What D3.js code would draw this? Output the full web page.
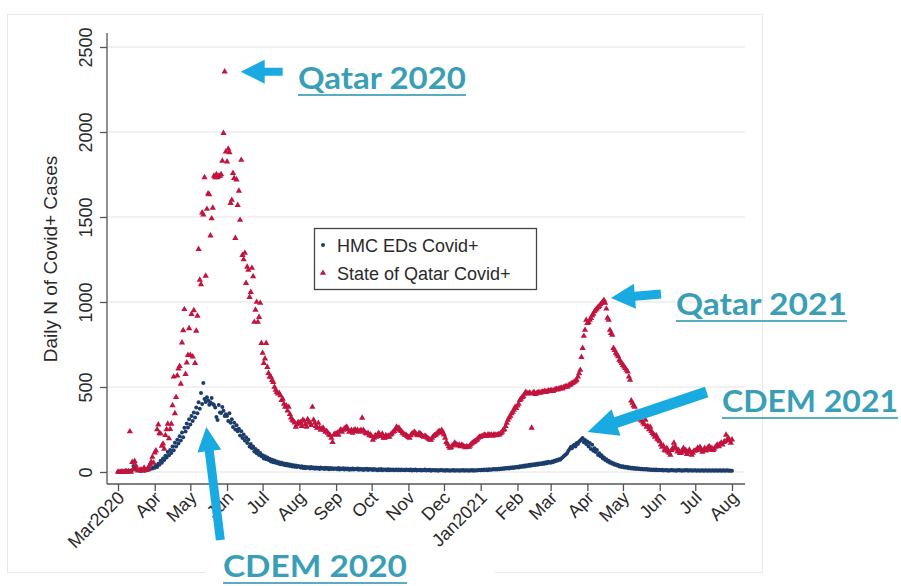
<!DOCTYPE html>
<html>
<head>
<meta charset="utf-8">
<script src="https://cdn.jsdelivr.net/npm/d3@7"></script>
<style>
  html, body { margin: 0; padding: 0; background: #fff; }
  svg { display: block; }
</style>
</head>
<body>
<svg id="chart" width="901" height="586"></svg>
<script>
// Daily counts, one value per day starting on seriesStart (one row per month).
const seriesStart = "2020-03-01";

const hmcEdsCases = [
  0,0,1,0,1,2,2,3,4,5, 6,8,12,35,28,18,14,10,9,8, 7,9,10,8,12,14,16,18,22,20, 26,               // Mar 2020
  25,38,30,48,42,66,55,80,70,95, 85,118,98,130,112,150,128,172,150,190, 168,210,185,232,205,260,238,285,262,310, // Apr
  280,330,300,350,320,380,345,410,372,465, 400,523,430,412,440,420,395,410,435,400, 394,380,324,306,394,350,347,382,360,330, 340, // May
  330,300,345,290,310,265,290,250,275,240, 255,215,240,200,220,185,205,170,190,150, 165,140,150,120,135,110,125,100,112,92, // Jun
  98,80,92,75,85,70,78,62,72,58, 68,55,62,50,58,46,55,44,50,40, 48,38,45,36,42,33,40,31,38,30, 35, // Jul
  32,26,34,24,31,22,30,25,28,20, 29,22,27,19,26,21,25,18,27,20, 24,17,25,19,23,16,24,18,22,17, 21, // Aug
  20,16,23,15,21,17,22,14,20,16, 21,13,19,15,20,14,18,16,21,13, 19,14,17,12,18,15,19,12,17,14,     // Sep
  16,12,17,13,15,11,16,12,17,10, 15,13,14,10,16,11,15,12,14,10, 13,15,11,14,10,15,12,13,10,14, 12, // Oct
  13,10,14,9,13,11,14,9,12,10, 13,9,12,11,14,9,12,10,13,8, 12,10,11,9,12,8,11,10,12,9,             // Nov
  11,8,12,9,10,7,11,9,12,8, 10,9,11,7,10,9,12,8,11,9, 10,8,11,9,12,8,10,9,11,10, 12,               // Dec
  10,13,11,15,12,14,11,16,13,15, 14,18,15,17,14,19,16,20,17,22, 19,23,20,25,21,26,23,28,24,30, 27, // Jan 2021
  31,27,34,30,36,31,38,33,40,35, 42,37,44,39,46,41,48,43,50,45, 52,47,55,49,57,52,60,56,           // Feb
  55,62,58,66,63,70,68,75,72,80, 85,92,98,105,112,125,135,147,140,155, 160,150,170,165,178,185,192,200,175,188, 165, // Mar
  180,150,170,135,160,125,140,118,130,100, 110,92,98,80,85,70,75,62,66,55, 58,48,52,42,46,38,41,33,36,30, // Apr
  34,27,31,25,29,22,27,21,25,19, 23,18,22,17,20,16,19,15,18,14, 17,13,16,12,15,12,14,11,14,10, 13, // May
  12,10,13,9,11,10,12,8,11,9, 12,10,9,11,8,10,12,9,10,8, 11,9,10,12,8,10,9,11,8,10,               // Jun
  10,8,9,11,8,9,10,7,9,10, 8,9,11,8,9,10,7,9,10,8, 9,11,8,9,10,7,9,10,8,9, 8,                      // Jul
  8                                                                                               // Aug 1
];

const qatarCases = [
  1,0,0,1,1,0,3,3,0,3, 238,0,58,17,64,38,13,8,10,11, 13,7,25,11,12,13,28,44,59,88, 54,             // Mar 2020
  114,126,250,279,228,225,153,166,136,216, 251,283,197,252,283,392,560,345,440,567, 608,623,518,761,833,957,576,643,687,845, // Apr
  687,929,679,951,640,830,918,1311,1130,1103, 1526,1514,1733,1153,1547,1637,1632,1390,1491,1554, 1742,1733,1751,1732,1740,1742,1751,1830,1993,2355, 1884, // May
  1826,1901,1880,1581,1600,1758,1729,1376,1720,1570, 1653,1482,1835,1276,1250,1288,1111,1206,1188,1029, 1058,1200,1150,882,953,1000,882,911,994,758, // Jun
  700,640,667,758,617,581,560,559,540,529, 500,482,470,460,464,450,423,430,400,382, 390,360,382,340,320,306,300,290,265,280, 292, // Jul
  287,292,270,306,300,280,265,310,295,288, 276,382,306,288,270,259,288,260,247,255, 259,247,236,240,230,220,215,200,176,218, 225, // Aug
  225,230,218,240,250,235,247,255,260,265, 250,235,240,247,230,245,250,240,247,235, 240,247,318,247,235,229,225,229,215,220,   // Sep
  210,188,200,215,206,220,229,215,210,225, 200,200,215,206,212,206,220,225,235,240, 250,265,255,259,245,240,230,225,218,218, 210, // Oct
  205,200,215,225,230,235,228,220,215,229, 225,218,210,206,212,206,200,195,190,188, 200,210,215,218,225,235,240,230,247,235,   // Nov
  220,200,176,165,150,141,145,155,160,171, 165,160,155,159,150,159,155,150,145,150, 147,147,155,165,171,175,180,185,190,200, 206, // Dec
  206,210,212,218,215,210,218,220,215,218, 212,218,220,215,218,222,220,229,235,247, 250,270,288,306,320,330,345,353,365,382, 375, // Jan 2021
  390,400,423,430,440,445,460,470,464,460, 465,462,259,464,470,458,462,466,470,465, 468,472,470,476,470,474,478,475,          // Feb
  478,480,475,482,485,488,484,490,492,495, 490,498,500,505,500,508,512,515,523,525, 530,535,541,560,580,600,676,729,800,835, 894, // Mar
  876,880,895,905,920,930,945,953,960,970, 975,985,994,1000,1011,994,960,906,894,835, 817,806,729,717,700,690,680,659,650,640, // Apr
  629,620,610,600,590,560,541,420,406,390, 382,350,324,330,315,306,300,290,280,306, 265,270,250,265,240,229,220,206,215,195, 188, // May
  180,160,147,155,130,125,140,120,112,100, 129,140,171,150,135,120,129,110,112,125, 140,118,129,105,120,130,115,100,112,125,   // Jun
  125,129,140,135,147,130,118,129,140,125, 135,147,150,130,140,128,135,147,155,160, 150,165,171,160,175,180,218,190,200,185, 171, // Jul
  190                                                                                             // Aug 1
];

const seriesNames = ["HMC EDs Covid+", "State of Qatar Covid+"];
const yTickValues = [0, 500, 1000, 1500, 2000, 2500];
const xTickLabels = ["Mar2020","Apr","May","Jun","Jul","Aug","Sep","Oct","Nov","Dec",
                     "Jan2021","Feb","Mar","Apr","May","Jun","Jul","Aug"];
const yTitle = "Daily N of Covid+ Cases";
const calloutLabels = ["Qatar 2020", "Qatar 2021", "CDEM 2021", "CDEM 2020"];

// ---------------------------------------------------------------------------
const W = 901, H = 586;
const plot = { left: 107, right: 745, top: 33, bottom: 484 };
const axisFont = "'Liberation Sans', Arial, Helvetica, sans-serif";
const calloutFont = "Lato, 'Open Sans', sans-serif";
const navy = "#1c3d6c", crimson = "#c2143f";
const arrowBlue = "#1aaae2", calloutTeal = "#3a9fb6";

const svg = d3.select("#chart");
svg.append("rect").attr("width", W).attr("height", H).attr("fill", "#fff");

// faint frame around the graph area
svg.append("rect")
  .attr("x", 7.5).attr("y", 14.5).attr("width", 755).attr("height", 558)
  .attr("fill", "none").attr("stroke", "#e9e9e9").attr("stroke-width", 1);

const parse = d3.utcParse("%Y-%m-%d");
const t0 = parse(seriesStart);
const dayAt = i => d3.utcDay.offset(t0, i);

const x = d3.scaleUtc()
  .domain([parse("2020-03-01"), parse("2021-08-01")])
  .range([118, 732]);
const y = d3.scaleLinear().domain([0, 2500]).range([472, 47]);

// horizontal grid
svg.append("g").selectAll("line").data(yTickValues).join("line")
  .attr("x1", plot.left).attr("x2", plot.right)
  .attr("y1", d => y(d)).attr("y2", d => y(d))
  .attr("stroke", "#ececec").attr("stroke-width", 1.3);

// y axis
const yAxis = svg.append("g")
  .attr("transform", `translate(${plot.left},0)`)
  .call(d3.axisLeft(y).tickValues(yTickValues).tickSize(7).tickSizeOuter(0).tickFormat(d3.format("d")));
yAxis.select(".domain").attr("d", `M0,${plot.bottom}V${plot.top}`);
yAxis.selectAll(".tick text")
  .attr("x", 0).attr("dy", 0)
  .attr("text-anchor", "middle")
  .attr("transform", "translate(-15,0) rotate(-90)");

// x axis, one tick per month
const monthTicks = d3.utcMonth.range(parse("2020-03-01"), parse("2021-08-02"));
const xAxis = svg.append("g")
  .attr("transform", `translate(0,${plot.bottom})`)
  .call(d3.axisBottom(x).tickValues(monthTicks).tickSize(7).tickSizeOuter(0)
        .tickFormat((d, i) => xTickLabels[i]));
xAxis.select(".domain").attr("d", `M${plot.left},0H${plot.right}`);
xAxis.selectAll(".tick text")
  .attr("y", 0).attr("dy", 0)
  .attr("text-anchor", "end")
  .attr("transform", "translate(7,15) rotate(-45)");

[yAxis, xAxis].forEach(g => {
  g.attr("font-family", axisFont).attr("font-size", 18);
  g.selectAll(".domain, .tick line").attr("stroke", "#555").attr("stroke-width", 1.3);
  g.selectAll(".tick text").attr("fill", "#2a2a2a");
});

// y axis title
svg.append("text")
  .attr("transform", `translate(57,${(155 + 363) / 2}) rotate(-90)`)
  .attr("text-anchor", "middle")
  .attr("font-family", axisFont).attr("font-size", 19).attr("fill", "#2a2a2a")
  .text(yTitle);

// scatter series
const hmcPts = hmcEdsCases.map((v, i) => ({ date: dayAt(i), value: v }));
const qatarPts = qatarCases.map((v, i) => ({ date: dayAt(i), value: v }));
const triangle = d3.symbol(d3.symbolTriangle, 17);

svg.append("g").selectAll("circle").data(hmcPts).join("circle")
  .attr("cx", d => x(d.date)).attr("cy", d => y(d.value))
  .attr("r", 2.0).attr("fill", navy);

svg.append("g").selectAll("path").data(qatarPts).join("path")
  .attr("d", triangle)
  .attr("transform", d => `translate(${x(d.date)},${y(d.value)})`)
  .attr("fill", crimson);

// legend
const lg = svg.append("g").attr("font-family", axisFont).attr("font-size", 18).attr("fill", "#2a2a2a");
lg.append("rect").attr("x", 314.5).attr("y", 228.5).attr("width", 222).attr("height", 61)
  .attr("fill", "#fff").attr("stroke", "#444").attr("stroke-width", 1.3);
lg.append("circle").attr("cx", 323).attr("cy", 245).attr("r", 2.0).attr("fill", navy);
lg.append("path").attr("d", triangle).attr("transform", "translate(323,273)").attr("fill", crimson);
lg.append("text").attr("x", 337).attr("y", 252).text(seriesNames[0]);
lg.append("text").attr("x", 337).attr("y", 280).text(seriesNames[1]);

// callout arrows, anchored on the peaks they point at
function arrowPath(x1, y1, x2, y2, shaft, headW, headL) {
  const dx = x2 - x1, dy = y2 - y1, L = Math.hypot(dx, dy);
  const ux = dx / L, uy = dy / L, px = -uy, py = ux;
  const bx = x2 - ux * headL, by = y2 - uy * headL;
  const pts = [
    [x1 + px * shaft / 2, y1 + py * shaft / 2],
    [bx + px * shaft / 2, by + py * shaft / 2],
    [bx + px * headW / 2, by + py * headW / 2],
    [x2, y2],
    [bx - px * headW / 2, by - py * headW / 2],
    [bx - px * shaft / 2, by - py * shaft / 2],
    [x1 - px * shaft / 2, y1 - py * shaft / 2]
  ];
  return "M" + pts.map(p => p.map(v => v.toFixed(1)).join(",")).join("L") + "Z";
}
function peakIn(pts, from, to) {
  const a = parse(from), b = parse(to);
  return pts.filter(p => p.date >= a && p.date < b)
            .reduce((m, p) => (p.value > m.value ? p : m));
}
const pkQ20 = peakIn(qatarPts, "2020-03-01", "2020-12-31");
const pkQ21 = peakIn(qatarPts, "2021-01-01", "2021-08-02");
const pkH20 = peakIn(hmcPts, "2020-03-01", "2020-12-31");
const pkH21 = peakIn(hmcPts, "2021-01-01", "2021-08-02");

const arrows = [
  { px: x(pkQ20.date), py: y(pkQ20.value), tip: [16, 0],  tail: [58, 0],    shaft: 8,  headW: 24, headL: 24 },
  { px: x(pkQ21.date), py: y(pkQ21.value), tip: [7, -2],  tail: [57, -6],   shaft: 9,  headW: 25, headL: 24 },
  { px: x(pkH21.date), py: y(pkH21.value), tip: [5, -6],  tail: [124, -46], shaft: 11, headW: 28, headL: 30 },
  { px: x(pkH20.date), py: y(pkH20.value), tip: [3, 44],  tail: [17, 157],  shaft: 9,  headW: 24, headL: 24 }
];
svg.append("g").selectAll("path").data(arrows).join("path")
  .attr("d", a => arrowPath(a.px + a.tail[0], a.py + a.tail[1], a.px + a.tip[0], a.py + a.tip[1], a.shaft, a.headW, a.headL))
  .attr("fill", arrowBlue);

// callout labels (white box behind the bottom one)
svg.append("rect").attr("x", 205).attr("y", 547).attr("width", 290).attr("height", 39).attr("fill", "#fff");

const callouts = [
  { x: 298, y: 89,  len: 168, size: 31 },
  { x: 676, y: 315, len: 171, size: 31 },
  { x: 722, y: 412, len: 176, size: 31 },
  { x: 223, y: 577, len: 184, size: 30 }
];
const cg = svg.append("g");
callouts.forEach((c, i) => {
  cg.append("text")
    .attr("x", c.x).attr("y", c.y)
    .attr("textLength", c.len).attr("lengthAdjust", "spacingAndGlyphs")
    .attr("font-family", calloutFont).attr("font-weight", 700).attr("font-size", c.size)
    .attr("fill", calloutTeal)
    .text(calloutLabels[i]);
  cg.append("rect")
    .attr("x", c.x).attr("y", c.y + 5).attr("width", c.len).attr("height", 2)
    .attr("fill", calloutTeal).attr("opacity", 0.85);
});
</script>
</body>
</html>
